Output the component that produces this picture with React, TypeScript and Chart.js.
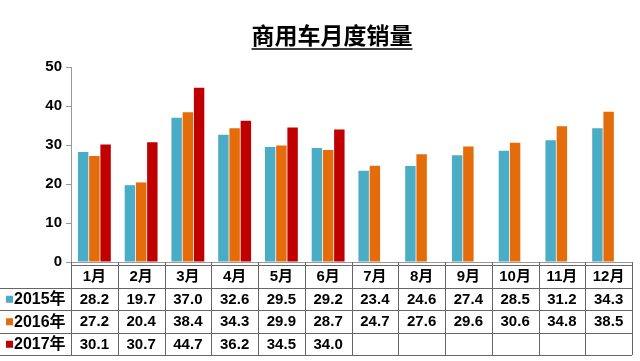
import React, { useEffect, useRef } from "react";
import { Chart, registerables } from "chart.js";

Chart.register(...registerables);

const TITLE = "商用车月度销量";
const MONTHS = ["1月", "2月", "3月", "4月", "5月", "6月", "7月", "8月", "9月", "10月", "11月", "12月"];
const YEARS = ["2015年", "2016年", "2017年"];
const SALES_2015 = [28.2, 19.7, 37.0, 32.6, 29.5, 29.2, 23.4, 24.6, 27.4, 28.5, 31.2, 34.3];
const SALES_2016 = [27.2, 20.4, 38.4, 34.3, 29.9, 28.7, 24.7, 27.6, 29.6, 30.6, 34.8, 38.5];
const SALES_2017: (number | null)[] = [30.1, 30.7, 44.7, 36.2, 34.5, 34.0, null, null, null, null, null, null];
const Y_MIN = 0;
const Y_MAX = 50;
const Y_STEP = 10;
const COLORS = ["#4BACC6", "#E46C0A", "#C00000"];

const FONT_FAMILY = '"Liberation Sans", Arial, "Noto Sans CJK SC", sans-serif';

const tablePlugin = {
  id: "dataTable",
  afterDraw(chart: any) {
    const ctx = chart.ctx;
    const area = chart.chartArea;
    const left = area.left;
    const right = area.right;
    const colW = (right - left) / MONTHS.length;
    const tableTop = area.bottom + 3;
    const rowH = 22.5;
    const rows = [SALES_2015, SALES_2016, SALES_2017];
    const tableBottom = tableTop + rowH * 4;

    ctx.save();
    // title
    ctx.font = 'bold 23px "Noto Sans CJK SC", sans-serif';
    ctx.fillStyle = "#000";
    ctx.textAlign = "center";
    ctx.textBaseline = "middle";
    const tx = 332;
    const ty = 35;
    ctx.fillText(TITLE, tx, ty);
    const tw = ctx.measureText(TITLE).width;
    ctx.strokeStyle = "#000";
    ctx.lineWidth = 1.5;
    ctx.beginPath();
    ctx.moveTo(tx - tw / 2, 49);
    ctx.lineTo(tx + tw / 2, 49);
    ctx.stroke();

    // table lines
    ctx.strokeStyle = "#666";
    ctx.lineWidth = 1;
    ctx.beginPath();
    for (let i = 0; i <= MONTHS.length; i++) {
      const x = Math.round(left + i * colW) + 0.5;
      ctx.moveTo(x, area.bottom);
      ctx.lineTo(x, tableBottom);
    }
    ctx.moveTo(left, Math.round(tableTop) + 0.5);
    ctx.lineTo(right, Math.round(tableTop) + 0.5);
    for (let r = 1; r <= 4; r++) {
      const y = Math.round(tableTop + r * rowH) + 0.5;
      ctx.moveTo(0, y);
      ctx.lineTo(right, y);
    }
    ctx.stroke();

    // text
    ctx.font = "bold 15px " + FONT_FAMILY;
    ctx.fillStyle = "#000";
    ctx.textAlign = "center";
    ctx.textBaseline = "middle";
    MONTHS.forEach((m, i) => {
      ctx.fillText(m, left + (i + 0.5) * colW, tableTop + rowH / 2 + 1);
    });
    rows.forEach((vals, r) => {
      const cy = tableTop + (r + 1.5) * rowH + 1;
      ctx.font = "bold 15px " + FONT_FAMILY;
      ctx.textAlign = "center";
      vals.forEach((v, i) => {
        if (v === null || v === undefined) return;
        ctx.fillText(v.toFixed(1), left + (i + 0.5) * colW, cy);
      });
      ctx.fillStyle = COLORS[r];
      ctx.fillRect(6, cy - 4, 7, 7);
      ctx.fillStyle = "#000";
      ctx.textAlign = "left";
      ctx.font = "bold 16px " + FONT_FAMILY;
      ctx.fillText(YEARS[r], 14, cy);
    });
    ctx.restore();
  },
};

export default function App() {
  const ref = useRef<HTMLCanvasElement | null>(null);

  useEffect(() => {
    if (!ref.current) return;
    const chart = new Chart(ref.current, {
      type: "bar",
      data: {
        labels: MONTHS,
        datasets: [
          { label: YEARS[0], data: SALES_2015, backgroundColor: COLORS[0] },
          { label: YEARS[1], data: SALES_2016, backgroundColor: COLORS[1] },
          { label: YEARS[2], data: SALES_2017, backgroundColor: COLORS[2] },
        ],
      },
      options: {
        animation: false,
        responsive: false,
        maintainAspectRatio: false,
        layout: { padding: { left: 0, top: 67, right: 8, bottom: 99 } },
        datasets: {
          bar: { categoryPercentage: 0.72, barPercentage: 0.93 },
        },
        plugins: {
          legend: { display: false },
          title: { display: false },
          tooltip: { enabled: false },
        },
        scales: {
          x: {
            ticks: { display: false },
            grid: { display: false },
            border: { display: true, color: "#999" },
            afterFit: (s: any) => {
              s.height = 0;
            },
          },
          y: {
            min: Y_MIN,
            max: Y_MAX,
            ticks: {
              stepSize: Y_STEP,
              padding: 4,
              color: "#000",
              font: { family: FONT_FAMILY, size: 15, weight: "bold" },
            },
            grid: {
              display: true,
              drawOnChartArea: false,
              drawTicks: true,
              tickLength: 5,
              color: "#999",
            },
            border: { display: true, color: "#999" },
            afterFit: (s: any) => {
              s.width = 71;
            },
          },
        },
      },
      plugins: [tablePlugin],
    });
    return () => chart.destroy();
  }, []);

  return (
    <div style={{ position: "absolute", left: 0, top: 0, width: 640, height: 361, background: "#fff" }}>
      <canvas ref={ref} width={640} height={361} style={{ width: 640, height: 361 }} />
    </div>
  );
}
